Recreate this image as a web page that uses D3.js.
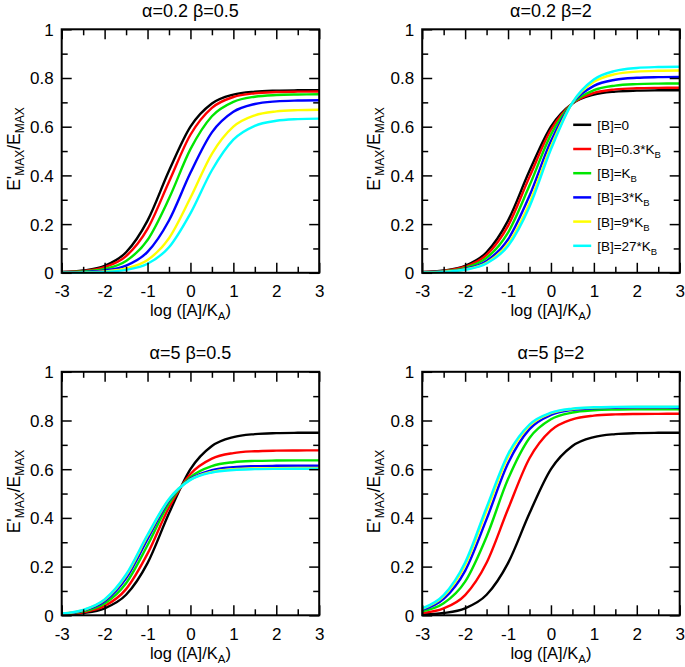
<!DOCTYPE html>
<html><head><meta charset="utf-8">
<script src="https://cdn.jsdelivr.net/npm/d3@7"></script>
<style>body{margin:0;background:#fff}svg{display:block}</style>
</head><body>
<svg id="c" width="685" height="667"></svg>
<script>
// ---- data ----
const logA = [-3, -2.5, -2, -1.5, -1, -0.5, 0, 0.5, 1, 1.5, 2, 2.5, 3];
const xTicks = [-3, -2, -1, 0, 1, 2, 3];
const yTicks = [0, 0.2, 0.4, 0.6, 0.8, 1];
const panelTitles = ["α=0.2 β=0.5", "α=0.2 β=2", "α=5 β=0.5", "α=5 β=2"];
const legendLabels = [["[B]=0", ""], ["[B]=0.3*K", "B"], ["[B]=K", "B"], ["[B]=3*K", "B"], ["[B]=9*K", "B"], ["[B]=27*K", "B"]];
const seriesColors = ["#000000", "#ff0000", "#00e600", "#0000ff", "#ffff00", "#00ffff"];

const curveB0 = [0.0030, 0.0094, 0.0288, 0.0842, 0.2143, 0.4188, 0.6000, 0.6951, 0.7317, 0.7441, 0.7481, 0.7494, 0.7498];

const p1_B03 = [0.0024, 0.0074, 0.0230, 0.0683, 0.1802, 0.3740, 0.5670, 0.6775, 0.7220, 0.7373, 0.7423, 0.7439, 0.7444];
const p1_B1  = [0.0016, 0.0052, 0.0161, 0.0487, 0.1347, 0.3049, 0.5077, 0.6430, 0.7021, 0.7231, 0.7301, 0.7323, 0.7330];
const p1_B3  = [0.0010, 0.0031, 0.0096, 0.0295, 0.0857, 0.2149, 0.4105, 0.5765, 0.6610, 0.6932, 0.7040, 0.7075, 0.7086];
const p1_B9  = [0.0006, 0.0018, 0.0057, 0.0176, 0.0525, 0.1421, 0.3081, 0.4888, 0.6000, 0.6465, 0.6628, 0.6681, 0.6698];
const p1_B27 = [0.0004, 0.0013, 0.0039, 0.0123, 0.0373, 0.1047, 0.2440, 0.4212, 0.5468, 0.6037, 0.6243, 0.6311, 0.6333];

const p2_B03 = [0.0026, 0.0081, 0.0250, 0.0738, 0.1929, 0.3939, 0.5874, 0.6955, 0.7385, 0.7532, 0.7580, 0.7595, 0.7600];
const p2_B1  = [0.0021, 0.0066, 0.0205, 0.0612, 0.1654, 0.3582, 0.5676, 0.6962, 0.7500, 0.7688, 0.7749, 0.7769, 0.7775];
const p2_B3  = [0.0016, 0.0052, 0.0162, 0.0490, 0.1369, 0.3166, 0.5410, 0.6974, 0.7675, 0.7927, 0.8010, 0.8036, 0.8045];
const p2_B9  = [0.0014, 0.0043, 0.0136, 0.0415, 0.1184, 0.2862, 0.5188, 0.6983, 0.7841, 0.8158, 0.8263, 0.8297, 0.8308];
const p2_B27 = [0.0013, 0.0040, 0.0125, 0.0382, 0.1100, 0.2716, 0.5071, 0.6989, 0.7937, 0.8293, 0.8413, 0.8451, 0.8463];

const p3_B03 = [0.0040, 0.0125, 0.0381, 0.1075, 0.2531, 0.4426, 0.5801, 0.6433, 0.6662, 0.6738, 0.6763, 0.6770, 0.6773];
const p3_B1  = [0.0052, 0.0162, 0.0485, 0.1317, 0.2877, 0.4601, 0.5676, 0.6129, 0.6288, 0.6340, 0.6356, 0.6362, 0.6363];
const p3_B3  = [0.0063, 0.0195, 0.0578, 0.1518, 0.3129, 0.4709, 0.5605, 0.5963, 0.6086, 0.6126, 0.6139, 0.6143, 0.6144];
const p3_B9  = [0.0070, 0.0215, 0.0631, 0.1629, 0.3256, 0.4760, 0.5573, 0.5892, 0.6000, 0.6035, 0.6046, 0.6050, 0.6051];
const p3_B27 = [0.0073, 0.0224, 0.0654, 0.1675, 0.3307, 0.4779, 0.5562, 0.5866, 0.5969, 0.6002, 0.6013, 0.6016, 0.6017];

const p4_B03 = [0.0091, 0.0282, 0.0830, 0.2158, 0.4364, 0.6448, 0.7595, 0.8048, 0.8202, 0.8253, 0.8269, 0.8274, 0.8275];
const p4_B1  = [0.0162, 0.0492, 0.1381, 0.3228, 0.5594, 0.7282, 0.8049, 0.8327, 0.8419, 0.8448, 0.8458, 0.8461, 0.8462];
const p4_B3  = [0.0226, 0.0677, 0.1827, 0.3949, 0.6241, 0.7645, 0.8230, 0.8434, 0.8501, 0.8522, 0.8529, 0.8531, 0.8532];
const p4_B9  = [0.0265, 0.0784, 0.2069, 0.4297, 0.6515, 0.7786, 0.8298, 0.8474, 0.8531, 0.8550, 0.8555, 0.8557, 0.8558];
const p4_B27 = [0.0281, 0.0829, 0.2169, 0.4432, 0.6615, 0.7836, 0.8321, 0.8488, 0.8542, 0.8559, 0.8564, 0.8566, 0.8567];

const panelSeries = [
  [curveB0, p1_B03, p1_B1, p1_B3, p1_B9, p1_B27],
  [curveB0, p2_B03, p2_B1, p2_B3, p2_B9, p2_B27],
  [curveB0, p3_B03, p3_B1, p3_B3, p3_B9, p3_B27],
  [curveB0, p4_B03, p4_B1, p4_B3, p4_B9, p4_B27]
];

// ---- layout ----
const FONT = "'Liberation Sans', Arial, Helvetica, sans-serif";
const W = 257.5, H = 243.5;
const origins = [[61.7, 29.3], [422.2, 29.3], [61.7, 371.8], [422.2, 371.8]];
const svg = d3.select("#c").style("font-family", FONT);

panelSeries.forEach((series, pi) => {
  const [ox, oy] = origins[pi];
  const g = svg.append("g").attr("transform", `translate(${ox},${oy})`);
  const x = d3.scaleLinear().domain([-3, 3]).range([0, W]);
  const y = d3.scaleLinear().domain([0, 1]).range([H, 0]);

  // curves
  const line = d3.line().x((d, i) => x(logA[i])).y(d => y(d)).curve(d3.curveCatmullRom.alpha(0));
  series.forEach((s, si) => {
    g.append("path").attr("d", line(s)).attr("fill", "none")
      .attr("stroke", seriesColors[si]).attr("stroke-width", 2.4)
      .attr("stroke-linejoin", "round");
  });

  // axes with inward ticks on all sides
  const fmt = d => (d < 0 ? "-" : "") + Math.abs(d);
  const xMinor = d3.range(-2.5, 3, 1);
  const yMinor = d3.range(0.1, 1, 0.2);
  const mk = (axisFn, scale, vals, len, labels) => axisFn(scale).tickValues(vals).tickSizeInner(-len).tickSizeOuter(0).tickFormat(labels ? fmt : "");

  const bottom = g.append("g").attr("transform", `translate(0,${H})`).call(mk(d3.axisBottom, x, xTicks, 10, true));
  g.append("g").attr("transform", `translate(0,${H})`).call(mk(d3.axisBottom, x, xMinor, 6, false));
  g.append("g").call(mk(d3.axisTop, x, xTicks, 10, false));
  g.append("g").call(mk(d3.axisTop, x, xMinor, 6, false));
  const left = g.append("g").call(mk(d3.axisLeft, y, yTicks, 10, true));
  g.append("g").call(mk(d3.axisLeft, y, yMinor, 6, false));
  g.append("g").attr("transform", `translate(${W},0)`).call(mk(d3.axisRight, y, yTicks, 10, false));
  g.append("g").attr("transform", `translate(${W},0)`).call(mk(d3.axisRight, y, yMinor, 6, false));
  g.selectAll(".domain").remove();
  g.selectAll(".tick line").attr("stroke", "#000").attr("stroke-width", 1.5);
  g.selectAll(".tick text").attr("font-family", FONT).attr("font-size", 17).attr("fill", "#000");
  bottom.selectAll(".tick text").attr("y", 0).attr("dy", 0).attr("transform", "translate(0,24.5)");
  left.selectAll(".tick text").attr("x", -8).attr("dy", "0.35em");

  // frame
  g.append("rect").attr("x", 0).attr("y", 0).attr("width", W).attr("height", H)
    .attr("fill", "none").attr("stroke", "#000").attr("stroke-width", 2);

  // title
  g.append("text").attr("x", W / 2).attr("y", -12.5).attr("text-anchor", "middle")
    .attr("font-size", 18).text(panelTitles[pi]);

  // x label
  const xl = g.append("text").attr("x", W / 2).attr("y", H + 43.5).attr("text-anchor", "middle").attr("font-size", 16.5);
  xl.append("tspan").text("log ([A]/K");
  xl.append("tspan").attr("font-size", 11.5).attr("dy", 4).text("A");
  xl.append("tspan").attr("dy", -4).text(")");

  // y label
  const yl = g.append("text").attr("transform", `translate(-42,${H / 2 - 2}) rotate(-90)`)
    .attr("text-anchor", "middle").attr("font-size", 17.5);
  yl.append("tspan").text("E'");
  yl.append("tspan").attr("font-size", 12).attr("dy", 4).text("MAX");
  yl.append("tspan").attr("dy", -4).text("/E");
  yl.append("tspan").attr("font-size", 12).attr("dy", 4).text("MAX");

  // legend (panel 2 only)
  if (pi === 1) {
    const lg = g.append("g").attr("transform", "translate(151,95.5)");
    legendLabels.forEach((lab, li) => {
      const row = lg.append("g").attr("transform", `translate(0,${li * 24.2})`);
      row.append("line").attr("x1", 0).attr("x2", 18).attr("y1", 0).attr("y2", 0)
        .attr("stroke", seriesColors[li]).attr("stroke-width", 2.5);
      const t = row.append("text").attr("x", 24).attr("y", 5).attr("font-size", 13.5);
      t.append("tspan").text(lab[0]);
      if (lab[1]) t.append("tspan").attr("font-size", 9.5).attr("dy", 4).text(lab[1]);
    });
  }
});
</script>
</body></html>
